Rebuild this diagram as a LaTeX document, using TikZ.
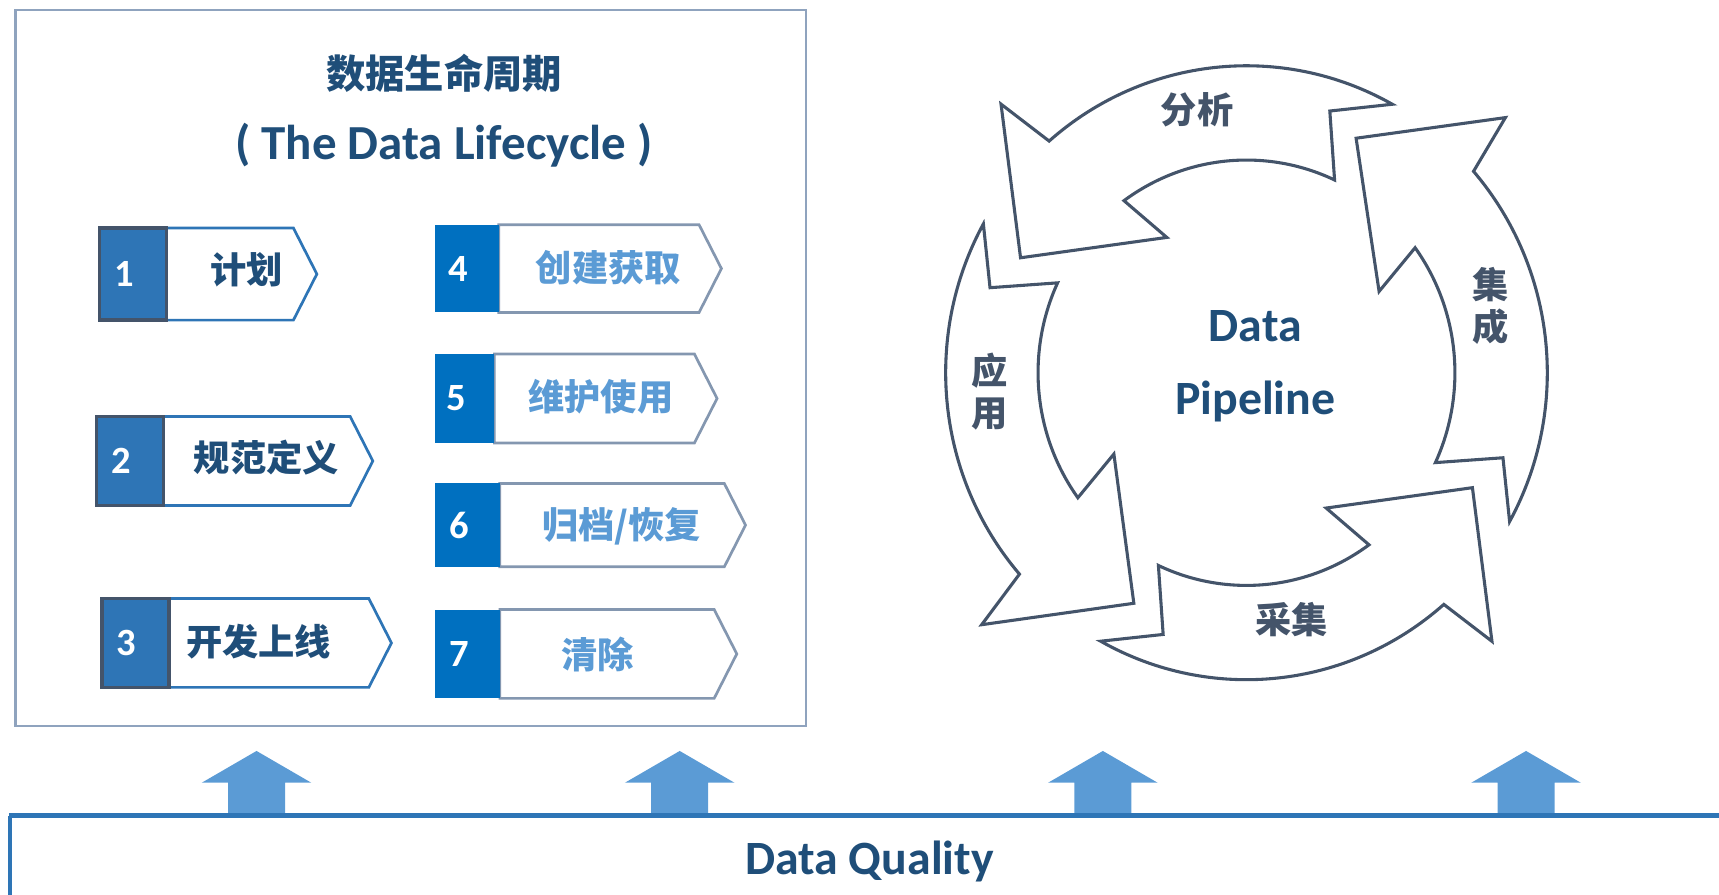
\documentclass[tikz,border=0pt]{standalone}
\usepackage{fontspec}
\setmainfont{Carlito}
\newfontfamily\cjk{Noto Sans CJK SC}
\usetikzlibrary{shapes.symbols}
\definecolor{titleblue}{RGB}{31,78,121}
\definecolor{stepblue}{RGB}{46,117,182}
\definecolor{deepblue}{RGB}{0,112,192}
\definecolor{lightblue}{RGB}{91,155,213}
\definecolor{stepgray}{RGB}{132,151,176}
\definecolor{slate}{RGB}{68,84,106}
\definecolor{framegray}{RGB}{143,163,190}

\begin{document}
\begin{tikzpicture}[x=0.01cm, y=-0.01cm,
    stepbox/.style={signal, signal to=east, signal pointer angle=126, draw, line width=0.7pt,
      fill=white, inner sep=0pt},
    steptext/.style={inner sep=0pt, font=\cjk\bfseries\fontsize{9.4}{11}\selectfont},
    numbox/.style={rectangle, inner sep=0pt, text=white,
      font=\bfseries\fontsize{10}{12}\selectfont, execute at end node={\hspace{0.16cm}}},
    planstep/.style={stepbox, draw=stepblue},
    plantext/.style={steptext, text=titleblue},
    planno/.style={numbox, fill=stepblue, draw=slate, line width=0.9pt},
    usestep/.style={stepbox, draw=stepgray},
    usetext/.style={steptext, text=lightblue},
    useno/.style={numbox, fill=deepblue},
    cycarrow/.style={draw=slate, line width=0.8pt},
    cyclabel/.style={text=slate, font=\cjk\bfseries\fontsize{9.4}{11}\selectfont, align=center},
    qarrow/.style={fill=lightblue}]
   \useasboundingbox (0,0) rectangle (1568,816);

   % lifecycle panel
   \draw[framegray, line width=0.6pt] (14,9) rectangle (735,662);
   \node[text=titleblue, font=\cjk\bfseries\fontsize{10.2}{12}\selectfont] (title) at (405,67) {数据生命周期};
   \node[text=titleblue, font=\bfseries\fontsize{12.7}{14}\selectfont] (subtitle) at (405,132) {( The Data Lifecycle )};

   \node[planstep, minimum width=1.37cm, minimum height=0.84cm] (s1) at (209.8,250) {};
   \node[planno, minimum width=0.61cm, minimum height=0.84cm] (n1) at (121.5,250) {1};
   \node[plantext] (t1) at (225,246) {计划};
   \node[planstep, minimum width=1.91cm, minimum height=0.81cm] (s2) at (234.2,420.5) {};
   \node[planno, minimum width=0.61cm, minimum height=0.81cm] (n2) at (118.5,420.5) {2};
   \node[plantext] (t2) at (243,417) {规范定义};
   \node[planstep, minimum width=2.03cm, minimum height=0.81cm] (s3) at (245.2,586.5) {};
   \node[planno, minimum width=0.61cm, minimum height=0.81cm] (n3) at (123.5,586.5) {3};
   \node[plantext] (t3) at (236,585) {开发上线};

   \node[usestep, minimum width=2.03cm, minimum height=0.80cm] (s4) at (546.3,245) {};
   \node[useno, minimum width=0.58cm, minimum height=0.80cm] (n4) at (426,245) {4};
   \node[usetext] (t4) at (555,244) {创建获取};
   \node[usestep, minimum width=2.03cm, minimum height=0.81cm] (s5) at (542.2,363.5) {};
   \node[useno, minimum width=0.54cm, minimum height=0.81cm] (n5) at (424,363.5) {5};
   \node[usetext] (t5) at (548,362) {维护使用};
   \node[usestep, minimum width=2.24cm, minimum height=0.76cm] (s6) at (558.3,479) {};
   \node[useno, minimum width=0.59cm, minimum height=0.76cm] (n6) at (426.5,479) {6};
   \node[usetext] (t6) at (567,480) {归档/恢复};
   \node[usestep, minimum width=2.16cm, minimum height=0.81cm] (s7) at (553.7,596.5) {};
   \node[useno, minimum width=0.59cm, minimum height=0.81cm] (n7) at (426.5,596.5) {7};
   \node[usetext] (t7) at (545,597) {清除};

   % pipeline cycle
   \begin{scope}[shift={(1137,340)}, yscale=-1, xscale=0.98]
     \draw[cycarrow] (61:280) arc[start angle=61, end angle=131, radius=280] -- (133:335) -- (153.5:235)
        -- (121:144) -- (126:194) arc[start angle=126, end angle=65, radius=194] -- (72:251) -- cycle;
     \draw[cycarrow] (-29:280) arc[start angle=-29, end angle=41, radius=280] -- (44:335) -- (64.5:237)
        -- (31:144) -- (36:194) arc[start angle=36, end angle=-25, radius=194] -- (-18:251) -- cycle;
     \draw[cycarrow] (-119:280) arc[start angle=-119, end angle=-49, radius=280] -- (-47:335) -- (-26.5:235)
        -- (-59:144) -- (-54:194) arc[start angle=-54, end angle=-115, radius=194] -- (-108:251) -- cycle;
     \draw[cycarrow] (151:280) arc[start angle=151, end angle=221, radius=280] -- (223:337) -- (243.5:235)
        -- (211:144) -- (216:194) arc[start angle=216, end angle=155, radius=194] -- (162:251) -- cycle;
   \end{scope}
   \node[cyclabel] (fenxi) at (1092,100) {分析};
   \node[cyclabel] (jicheng) at (1360,279) {集\\成};
   \node[cyclabel] (yingyong) at (903,357) {应\\用};
   \node[cyclabel] (caiji) at (1178,565) {采集};
   \node[text=titleblue, align=center, font=\bfseries\fontsize{12.4}{18.8}\selectfont] (pipeline) at (1145,334) {Data\\Pipeline};

   % quality base
   \fill[qarrow] (208,744) -- (208,714) -- (184,714) -- (234,685) -- (284,714) -- (260,714) -- (260,744) -- cycle;
   \fill[qarrow] (594,744) -- (594,714) -- (570,714) -- (620,685) -- (670,714) -- (646,714) -- (646,744) -- cycle;
   \fill[qarrow] (980,744) -- (980,714) -- (956,714) -- (1006,685) -- (1056,714) -- (1032,714) -- (1032,744) -- cycle;
   \fill[qarrow] (1366,744) -- (1366,714) -- (1342,714) -- (1392,685) -- (1442,714) -- (1418,714) -- (1418,744) -- cycle;
   \draw[stepblue, line width=1.4pt] (8,744) -- (1568,744);
   \draw[stepblue, line width=0.9pt] (9,744) -- (9,816);
   \node[text=titleblue, font=\bfseries\fontsize{12.4}{14}\selectfont] (quality) at (793,786) {Data Quality};
 \end{tikzpicture}
\end{document}
